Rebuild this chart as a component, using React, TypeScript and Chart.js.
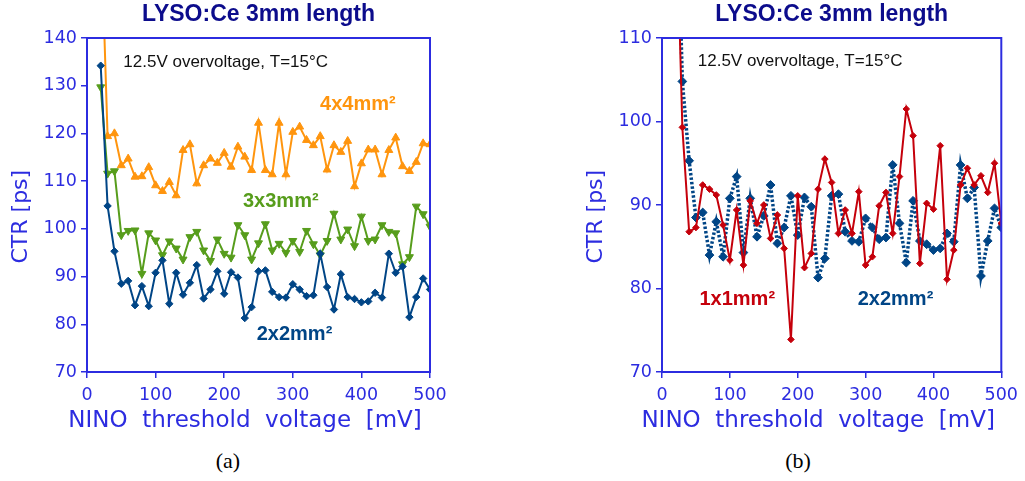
import React, { useEffect, useRef } from 'react';
import { Chart, registerables } from 'chart.js';

Chart.register(...registerables);

// NINO discriminator threshold [mV]
const thresholdMv = [
  20, 30, 40, 50, 60, 70, 80, 90, 100, 110, 120, 130, 140, 150, 160, 170, 180, 190, 200, 210,
  220, 230, 240, 250, 260, 270, 280, 290, 300, 310, 320, 330, 340, 350, 360, 370, 380, 390, 400,
  410, 420, 430, 440, 450, 460, 470, 480, 490, 500,
];

// Coincidence time resolution [ps] for each crystal cross-section
const ctr1x1 = [
  129, 99.3, 86.8, 87.3, 92.4, 91.9, 91.2, 87.6, 83.4, 89.4, 82.8, 90.5, 87.8, 90.0, 86.0, 88.8,
  84.8, 73.9, 91.1, 82.5, 84.2, 91.9, 95.5, 92.7, 86.6, 89.4, 86.6, 91.6, 82.8, 83.8, 89.9, 91.5,
  86.6, 93.4, 101.5, 98.3, 83.0, 90.2, 89.5, 97.1, 81.1, 84.6, 92.4, 94.4, 92.4, 93.5, 91.5, 95.0,
  87.8,
];
const ctr2x2 = [
  134.2, 104.8, 95.3, 88.5, 89.1, 84.0, 88.0, 83.8, 90.8, 93.4, 84.3, 90.8, 86.2, 88.7, 92.4, 85.4,
  87.3, 91.1, 86.4, 90.9, 89.8, 81.3, 83.6, 91.1, 91.3, 86.8, 85.7, 85.6, 88.4, 87.3, 85.9, 86.1,
  94.8, 87.8, 83.1, 90.5, 85.7, 85.3, 84.6, 84.8, 86.6, 85.6, 94.8, 90.8, 92.1, 81.5, 85.7, 89.6,
  87.3,
];
const ctr3x3 = [
  129.7, 111.6, 112.1, 98.7, 99.6, 99.7, 90.6, 99.1, 97.6, 94.5, 97.4, 95.9, 93.6, 98.3, 99.4, 95.5,
  93.3, 97.8, 94.8, 94.0, 100.8, 98.7, 93.6, 97.0, 101.0, 95.5, 96.9, 95.0, 97.5, 95.2, 99.6, 96.8,
  94.5, 97.5, 103.2, 97.8, 99.9, 96.4, 102.6, 97.5, 97.8, 100.8, 99.4, 99.1, 92.6, 94.1, 104.7,
  103.1, 100.5,
];
const ctr4x4 = [
  165, 119.4, 120.0, 113.3, 114.7, 110.9, 111.0, 112.9, 109.1, 107.9, 109.8, 107.0, 116.5, 117.7,
  109.5, 113.3, 114.7, 113.8, 115.9, 113.0, 117.2, 115.1, 112.3, 122.2, 112.3, 111.4, 122.2, 111.4,
  120.3, 121.4, 118.6, 117.5, 119.4, 112.4, 117.5, 116.1, 118.4, 108.9, 113.7, 116.6, 116.6, 111.4,
  116.5, 119.1, 113.1, 112.1, 114.0, 117.9, 117.7,
];

// Axis ranges and tick spacing
const xRange = [0, 500];
const xStep = 100;
const yRangeA = [70, 140];
const yRangeB = [70, 110];
const yStep = 10;

const TITLE = 'LYSO:Ce 3mm length';
const CONDITIONS = '12.5V overvoltage, T=15°C';
const X_TITLE = 'NINO  threshold  voltage  [mV]';
const Y_TITLE = 'CTR [ps]';

const AXIS_BLUE = '#2c2ce0';
const TITLE_NAVY = '#0c0c8c';
const C_NAVY = '#004586';
const C_GREEN = '#579d1c';
const C_ORANGE = '#ff950e';
const C_RED = '#c5000b';

const SANS = "'Liberation Sans', Arial, sans-serif";
const AXIS_FONT = "'DejaVu Sans', sans-serif";

type Note = {
  text: string;
  color: string;
  font: string;
  at: 'data' | 'area';
  x: number;
  y: number;
  dx?: number;
  dy?: number;
  align?: CanvasTextAlign;
  rotate?: number;
};

// Draws the plot frame and free-standing text (conditions, series names, axis titles)
function makeNotesPlugin(items: Note[]) {
  return {
    id: 'notes',
    afterDraw(chart: any) {
      const { ctx, chartArea: a, scales } = chart;
      ctx.save();
      ctx.strokeStyle = AXIS_BLUE;
      ctx.lineWidth = 2;
      ctx.strokeRect(a.left, a.top, a.right - a.left, a.bottom - a.top);
      ctx.restore();
      for (const n of items) {
        let px: number;
        let py: number;
        if (n.at === 'data') {
          px = scales.x.getPixelForValue(n.x);
          py = scales.y.getPixelForValue(n.y);
        } else {
          px = a.left + n.x * (a.right - a.left) + (n.dx ?? 0);
          py = a.top + n.y * (a.bottom - a.top) + (n.dy ?? 0);
        }
        ctx.save();
        ctx.translate(px, py);
        if (n.rotate) ctx.rotate((n.rotate * Math.PI) / 180);
        ctx.font = n.font;
        ctx.fillStyle = n.color;
        ctx.textAlign = n.align ?? 'left';
        ctx.textBaseline = 'alphabetic';
        ctx.fillText(n.text, 0, 0);
        ctx.restore();
      }
    },
  };
}

const toPoints = (ys: number[]) => thresholdMv.map((x, i) => ({ x, y: ys[i] }));

const axisTitles: Note[] = [
  { text: X_TITLE, color: AXIS_BLUE, font: `23px ${AXIS_FONT}`, at: 'area', x: 0.5, y: 1, dx: -13.5, dy: 54.7, align: 'center' },
  { text: Y_TITLE, color: AXIS_BLUE, font: `22px ${AXIS_FONT}`, at: 'area', x: 0, y: 0.5, dx: -60.3, dy: 11.7, align: 'center', rotate: -90 },
];

function buildConfig(datasets: any[], yRange: number[], padRight: number, notes: Note[]) {
  return {
    type: 'line' as const,
    data: { datasets },
    options: {
      animation: false as const,
      responsive: false,
      maintainAspectRatio: false,
      devicePixelRatio: 1,
      layout: { padding: { left: 0, right: padRight, top: 0, bottom: 0 } },
      elements: { line: { tension: 0 } },
      plugins: {
        legend: { display: false },
        tooltip: { enabled: false },
        title: {
          display: true,
          text: TITLE,
          color: TITLE_NAVY,
          fullSize: false,
          font: { family: SANS, size: 23, weight: 'bold' as const, lineHeight: 1.2 },
          padding: { top: 1, bottom: 9.4 },
        },
      },
      scales: {
        x: {
          type: 'linear' as const,
          min: xRange[0],
          max: xRange[1],
          ticks: { stepSize: xStep, color: AXIS_BLUE, font: { family: AXIS_FONT, size: 17.5 }, padding: 7, maxRotation: 0 },
          grid: { drawOnChartArea: false, drawTicks: true, tickLength: 6, color: AXIS_BLUE, lineWidth: 1.5 },
          border: { display: true, color: AXIS_BLUE, width: 2 },
          afterFit: (s: any) => {
            s.height = 68;
          },
        },
        y: {
          type: 'linear' as const,
          min: yRange[0],
          max: yRange[1],
          ticks: { stepSize: yStep, color: AXIS_BLUE, font: { family: AXIS_FONT, size: 17.5 }, padding: 4 },
          grid: { drawOnChartArea: false, drawTicks: true, tickLength: 6, color: AXIS_BLUE, lineWidth: 1.5 },
          border: { display: true, color: AXIS_BLUE, width: 2 },
          afterFit: (s: any) => {
            s.width = 87;
          },
        },
      },
    },
    plugins: [makeNotesPlugin([...notes, ...axisTitles])],
  };
}

export default function App() {
  const leftRef = useRef<HTMLCanvasElement>(null);
  const rightRef = useRef<HTMLCanvasElement>(null);

  useEffect(() => {
    const left = new Chart(
      leftRef.current!,
      buildConfig(
        [
          {
            label: '2x2mm²',
            data: toPoints(ctr2x2),
            borderColor: C_NAVY,
            backgroundColor: C_NAVY,
            borderWidth: 2,
            pointStyle: 'rectRot',
            pointRadius: 3.7,
            pointBorderWidth: 1,
          },
          {
            label: '3x3mm²',
            data: toPoints(ctr3x3),
            borderColor: C_GREEN,
            backgroundColor: C_GREEN,
            borderWidth: 2,
            pointStyle: 'triangle',
            pointRotation: 180,
            pointRadius: 4.6,
            pointBorderWidth: 1,
          },
          {
            label: '4x4mm²',
            data: toPoints(ctr4x4),
            borderColor: C_ORANGE,
            backgroundColor: C_ORANGE,
            borderWidth: 2,
            pointStyle: 'triangle',
            pointRadius: 4.6,
            pointBorderWidth: 1,
          },
        ],
        yRangeA,
        82,
        [
          { text: CONDITIONS, color: '#111', font: `17px ${SANS}`, at: 'data', x: 52.9, y: 133.9 },
          { text: '4x4mm²', color: C_ORANGE, font: `bold 20px ${SANS}`, at: 'data', x: 339.7, y: 124.85 },
          { text: '3x3mm²', color: C_GREEN, font: `bold 20px ${SANS}`, at: 'data', x: 227.4, y: 104.6 },
          { text: '2x2mm²', color: C_NAVY, font: `bold 20px ${SANS}`, at: 'data', x: 247.4, y: 76.65 },
        ]
      ) as any
    );
    const right = new Chart(
      rightRef.current!,
      buildConfig(
        [
          {
            label: '1x1mm²',
            data: toPoints(ctr1x1),
            borderColor: C_RED,
            backgroundColor: C_RED,
            borderWidth: 2,
            pointStyle: 'rectRot',
            pointRadius: 3.3,
            pointBorderWidth: 1,
          },
          {
            label: '2x2mm²',
            data: toPoints(ctr2x2),
            borderColor: C_NAVY,
            backgroundColor: C_NAVY,
            borderWidth: 3.5,
            borderDash: [2.5, 2],
            pointStyle: 'rectRot',
            pointRadius: 4.4,
            pointBorderWidth: 1,
          },
        ],
        yRangeB,
        21,
        [
          { text: CONDITIONS, color: '#111', font: `17px ${SANS}`, at: 'data', x: 52.7, y: 106.6 },
          { text: '1x1mm²', color: C_RED, font: `bold 20px ${SANS}`, at: 'data', x: 55.2, y: 78.0 },
          { text: '2x2mm²', color: C_NAVY, font: `bold 20px ${SANS}`, at: 'data', x: 288.4, y: 78.0 },
        ]
      ) as any
    );
    return () => {
      left.destroy();
      right.destroy();
    };
  }, []);

  const caption: React.CSSProperties = {
    position: 'absolute',
    top: 450,
    width: 100,
    textAlign: 'center',
    fontFamily: "'Liberation Serif', 'Times New Roman', serif",
    fontSize: 22,
    lineHeight: '22px',
    color: '#000',
  };

  return (
    <div style={{ position: 'absolute', left: 0, top: 0, width: 1025, height: 481, background: '#fff', overflow: 'hidden' }}>
      <canvas ref={leftRef} width={512} height={440} style={{ position: 'absolute', left: 0, top: 0, width: 512, height: 440 }} />
      <canvas ref={rightRef} width={450} height={440} style={{ position: 'absolute', left: 575, top: 0, width: 450, height: 440 }} />
      <div style={{ ...caption, left: 178 }}>(a)</div>
      <div style={{ ...caption, left: 748 }}>(b)</div>
    </div>
  );
}
